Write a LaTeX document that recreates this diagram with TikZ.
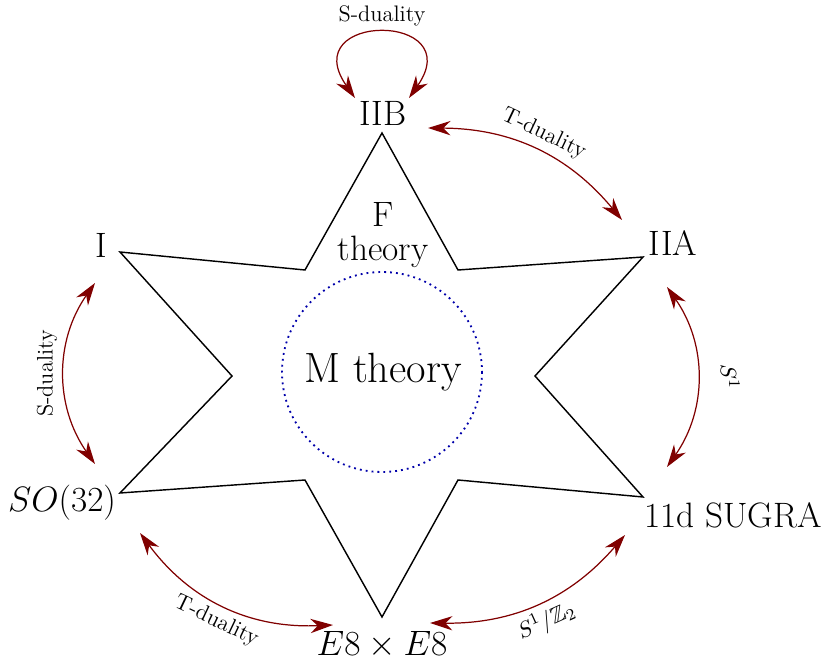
\documentclass[tikz,border=0pt]{standalone}
\usepackage{amssymb}
\usetikzlibrary{arrows.meta}
\definecolor{darkred}{RGB}{128,0,0}
\definecolor{dotblue}{RGB}{0,0,170}

\begin{document}
\begin{tikzpicture}[x=0.49pt,y=-0.49pt,
  lbl/.style={font=\LARGE},
  tag/.style={font=\fontsize{11}{13}\selectfont},
  dual/.style={draw=darkred,line width=0.6pt,
    {Stealth[length=11pt,width=7pt,inset=3.5pt]}-{Stealth[length=11pt,width=7pt,inset=3.5pt]}}]
\useasboundingbox (0,0) rectangle (827,661);
\draw[line width=0.7pt] (382,133) -- (458,270) -- (643,257) -- (535,376) -- (643,497) -- (458,480)
  -- (382,617) -- (305,480) -- (120,493) -- (232,376) -- (120,252) -- (305,270) -- cycle;
\draw[dotblue,dotted,line width=0.9pt] (382,372) circle (100);
\node[lbl] (iib) at (383,113) {IIB};
\node[lbl] (iia) at (673,243) {IIA};
\node[lbl] (i) at (101,245) {I};
\node[lbl] (so) at (62,503) {$SO(32)$};
\node[lbl] (sugra) at (733,515) {11d SUGRA};
\node[lbl] (e8) at (382,645) {$E8\times E8$};
\node[lbl,align=center] (f) at (383,235) {F\\[-5pt]theory};
\node[font=\huge] (m) at (383,372) {M theory};
\draw[dual] ([shift={(-28,-15)}]iib.center) to[out=125,in=55,looseness=5]
  node[above=0pt,tag] {S-duality} ([shift={(26,-15)}]iib.center);
\draw[dual] ([shift={(45,15)}]iib.center) to[bend left=25]
  node[above,sloped,tag] {T-duality} ([shift={(-51,-23)}]iia.center);
\draw[dual] ([shift={(-6,44)}]iia.center) to[bend left=35]
  node[above=8pt,sloped,tag] {$S^1$} ([shift={(-66,-48)}]sugra.center);
\draw[dual] ([shift={(48,-22)}]e8.center) to[bend right=25]
  node[below,sloped,tag] {$S^1/\mathbb{Z}_2$} ([shift={(-108,20)}]sugra.center);
\draw[dual] ([shift={(78,30)}]so.center) to[bend right=28]
  node[below,sloped,tag] {T-duality} ([shift={(-49,-20)}]e8.center);
\draw[dual] ([shift={(33,-39)}]so.center) to[bend left=35]
  node[above,sloped,tag] {S-duality} ([shift={(-6,38)}]i.center);
\end{tikzpicture}
\end{document}
